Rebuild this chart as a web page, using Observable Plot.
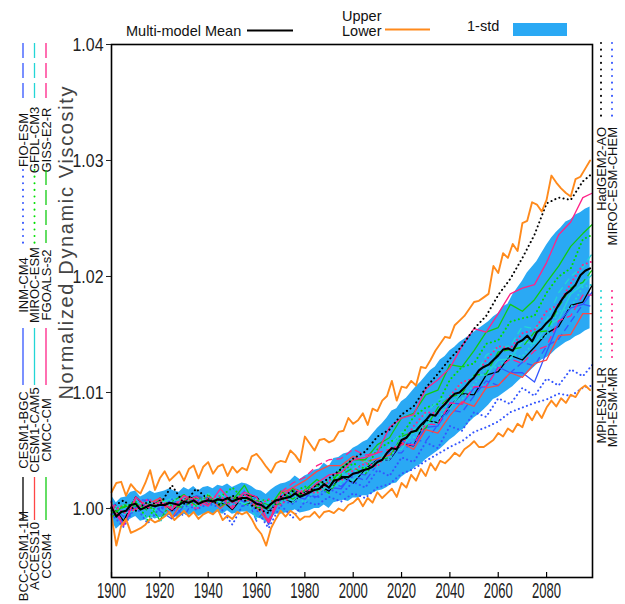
<!DOCTYPE html>
<html><head><meta charset="utf-8">
<script src="https://cdn.jsdelivr.net/npm/d3@7"></script>
<script src="https://cdn.jsdelivr.net/npm/@observablehq/plot@0.6"></script>
<style>
html,body{margin:0;padding:0;background:#fff;}
#chart{width:625px;height:604px;position:relative;}
</style></head><body><div id="chart"></div>
<script>
// ---------- data ----------
const years2 = d3.range(1900, 2100, 2);
const meanVals = [1.0001,0.9993,0.9997,0.9998,1.0003,1.0004,0.9999,1.0001,1.0003,1.0002,
1.0003,1.0003,1.0005,1.0004,1.0003,1.0006,1.0005,1.0007,1.0004,1.0006,
1.0007,1.0006,1.0008,1.0007,1.0009,1.0006,1.0008,1.0009,1.0009,1.0007,
1.0004,1.0003,1.0000,1.0004,1.0007,1.0008,1.0009,1.0010,1.0013,1.0010,
1.0012,1.0014,1.0016,1.0017,1.0021,1.0018,1.0024,1.0025,1.0027,1.0027,
1.0030,1.0031,1.0033,1.0034,1.0036,1.0040,1.0042,1.0048,1.0052,1.0051,
1.0059,1.0061,1.0066,1.0067,1.0072,1.0076,1.0081,1.0080,1.0086,1.0090,
1.0095,1.0099,1.0100,1.0104,1.0109,1.0113,1.0119,1.0122,1.0124,1.0128,
1.0132,1.0137,1.0138,1.0136,1.0143,1.0145,1.0149,1.0144,1.0152,1.0155,
1.0160,1.0164,1.0172,1.0179,1.0185,1.0188,1.0193,1.0201,1.0205,1.0207];
const upperVals = [1.0014,1.0022,1.0023,1.0011,1.0021,1.0016,1.0013,1.0022,1.0033,1.0016,
1.0026,1.0032,1.0024,1.0028,1.0032,1.0024,1.0034,1.0037,1.0026,1.0036,
1.0040,1.0030,1.0036,1.0038,1.0028,1.0036,1.0031,1.0035,1.0033,1.0045,
1.0047,1.0042,1.0036,1.0031,1.0039,1.0041,1.0040,1.0050,1.0046,1.0040,
1.0062,1.0056,1.0050,1.0059,1.0060,1.0057,1.0059,1.0066,1.0067,1.0078,
1.0073,1.0076,1.0082,1.0072,1.0086,1.0084,1.0093,1.0097,1.0110,1.0093,
1.0105,1.0104,1.0110,1.0106,1.0122,1.0121,1.0128,1.0136,1.0142,1.0148,
1.0147,1.0158,1.0162,1.0166,1.0172,1.0178,1.0179,1.0182,1.0185,1.0209,
1.0203,1.0220,1.0216,1.0228,1.0222,1.0246,1.0248,1.0264,1.0262,1.0256,
1.0266,1.0287,1.0281,1.0276,1.0272,1.0269,1.0284,1.0286,1.0293,1.0300];
const lowerVals = [0.9994,0.9968,0.9985,0.9991,0.9979,0.9981,0.9983,0.9986,0.9991,0.9988,
0.9990,0.9993,0.9997,0.9990,0.9994,0.9998,0.9993,0.9997,0.9991,0.9995,
0.9997,0.9995,0.9999,0.9990,0.9994,0.9991,0.9997,0.9995,0.9997,0.9991,
0.9983,0.9978,0.9968,0.9983,0.9991,0.9998,0.9993,0.9998,0.9995,0.9990,
0.9993,0.9993,0.9997,0.9992,0.9997,0.9998,0.9996,1.0000,0.9998,1.0003,
1.0005,1.0009,1.0002,1.0009,1.0005,1.0014,1.0009,1.0013,1.0017,1.0010,
1.0022,1.0018,1.0029,1.0024,1.0034,1.0028,1.0039,1.0033,1.0041,1.0039,
1.0043,1.0048,1.0045,1.0051,1.0054,1.0058,1.0053,1.0053,1.0056,1.0059,
1.0065,1.0062,1.0069,1.0066,1.0073,1.0070,1.0082,1.0076,1.0084,1.0078,
1.0087,1.0093,1.0088,1.0095,1.0091,1.0098,1.0096,1.0103,1.0106,1.0102];
const stdHi = [1.0011,1.0005,1.0009,1.0010,1.0014,1.0015,1.0010,1.0012,1.0015,1.0013,
1.0014,1.0015,1.0017,1.0015,1.0014,1.0018,1.0016,1.0019,1.0015,1.0018,
1.0019,1.0017,1.0020,1.0019,1.0021,1.0018,1.0020,1.0022,1.0021,1.0019,
1.0016,1.0015,1.0012,1.0016,1.0019,1.0021,1.0022,1.0024,1.0028,1.0025,
1.0028,1.0030,1.0033,1.0034,1.0039,1.0036,1.0043,1.0044,1.0047,1.0048,
1.0052,1.0054,1.0057,1.0059,1.0064,1.0069,1.0073,1.0078,1.0084,1.0086,
1.0092,1.0095,1.0100,1.0105,1.0109,1.0114,1.0119,1.0122,1.0128,1.0131,
1.0136,1.0139,1.0143,1.0146,1.0149,1.0152,1.0155,1.0158,1.0161,1.0165,
1.0168,1.0174,1.0176,1.0184,1.0190,1.0196,1.0203,1.0208,1.0213,1.0220,
1.0227,1.0233,1.0238,1.0242,1.0247,1.0249,1.0253,1.0255,1.0258,1.0260];
const stdLo = [0.9990,0.9982,0.9986,0.9988,0.9991,0.9993,0.9989,0.9990,0.9993,0.9991,
0.9992,0.9993,0.9994,0.9993,0.9992,0.9995,0.9994,0.9996,0.9993,0.9995,
0.9996,0.9995,0.9997,0.9995,0.9998,0.9995,0.9996,0.9997,0.9997,0.9995,
0.9992,0.9991,0.9988,0.9992,0.9995,0.9995,0.9996,0.9997,0.9999,0.9996,
0.9997,0.9998,1.0000,1.0000,1.0003,1.0000,1.0005,1.0006,1.0007,1.0006,
1.0009,1.0009,1.0011,1.0011,1.0013,1.0015,1.0016,1.0018,1.0021,1.0022,
1.0027,1.0030,1.0032,1.0036,1.0038,1.0042,1.0045,1.0048,1.0051,1.0055,
1.0059,1.0062,1.0066,1.0069,1.0074,1.0078,1.0081,1.0085,1.0089,1.0094,
1.0096,1.0099,1.0102,1.0105,1.0109,1.0113,1.0116,1.0120,1.0124,1.0128,
1.0130,1.0133,1.0137,1.0140,1.0143,1.0145,1.0148,1.0150,1.0153,1.0155];

const years5 = [1900,1905,1910,1915,1920,1925,1930,1935,1940,1945,1950,1955,
1960,1965,1970,1975,1980,1985,1990,1995,2000,2005,2010,2015,
2020,2025,2030,2035,2040,2045,2050,2055,2060,2065,2070,2075,
2080,2085,2090,2095,2099];
const bccCsm11m = [1.0004,0.9989,1.0010,1.0000,1.0007,0.9998,1.0008,1.0010,1.0004,1.0008,0.9999,1.0012,
1.0010,0.9998,1.0010,1.0005,1.0014,1.0021,1.0015,1.0028,1.0022,1.0034,1.0042,1.0042,
1.0056,1.0054,1.0076,1.0074,1.0088,1.0099,1.0098,1.0115,1.0118,1.0132,1.0128,1.0139,
1.0151,1.0157,1.0175,1.0178,1.0193];
const cesm1Bgc = [0.9997,0.9988,1.0001,1.0008,0.9998,0.9991,1.0002,1.0011,1.0008,1.0002,1.0009,1.0006,
1.0009,0.9986,1.0011,1.0011,1.0008,1.0020,1.0018,1.0017,1.0031,1.0029,1.0042,1.0042,
1.0058,1.0054,1.0070,1.0071,1.0091,1.0090,1.0104,1.0105,1.0122,1.0117,1.0117,1.0109,
1.0135,1.0160,1.0173,1.0176,1.0187];
const inmCm4 = [0.9995,0.9984,1.0002,0.9987,1.0001,0.9997,1.0005,0.9999,1.0004,1.0001,0.9986,1.0006,
0.9999,0.9983,1.0003,0.9992,1.0006,1.0003,1.0010,1.0006,1.0013,1.0009,1.0018,1.0021,
1.0030,1.0034,1.0041,1.0047,1.0053,1.0058,1.0066,1.0070,1.0075,1.0083,1.0087,1.0091,
1.0094,1.0099,1.0097,1.0104,1.0106];
const fioEsm = [1.0003,0.9993,1.0008,1.0007,1.0000,1.0005,0.9993,1.0011,1.0004,1.0009,1.0002,1.0015,
0.9989,1.0004,1.0004,1.0015,1.0012,1.0010,1.0022,1.0019,1.0028,1.0024,1.0038,1.0048,
1.0048,1.0059,1.0058,1.0072,1.0085,1.0083,1.0097,1.0110,1.0106,1.0117,1.0126,1.0123,
1.0140,1.0146,1.0161,1.0176,1.0174];
const access10 = [0.9998,1.0003,0.9999,1.0004,1.0009,0.9992,1.0008,1.0003,1.0011,1.0000,1.0009,1.0009,
1.0001,0.9988,1.0013,1.0018,1.0024,1.0032,1.0037,1.0037,1.0045,1.0040,1.0043,1.0046,
1.0057,1.0051,1.0068,1.0065,1.0080,1.0092,1.0088,1.0104,1.0106,1.0117,1.0113,1.0125,
1.0128,1.0149,1.0150,1.0168,1.0168];
const cesm1Cam5 = [1.0006,0.9996,0.9998,1.0005,1.0004,1.0009,1.0002,1.0004,1.0013,1.0004,1.0008,1.0004,
1.0008,0.9999,1.0009,1.0007,1.0017,1.0013,1.0020,1.0031,1.0024,1.0035,1.0036,1.0052,
1.0051,1.0068,1.0072,1.0084,1.0086,1.0101,1.0115,1.0115,1.0128,1.0129,1.0144,1.0142,
1.0157,1.0163,1.0185,1.0193,1.0202];
const mirocEsm = [1.0000,1.0001,1.0006,0.9990,1.0009,1.0001,1.0007,1.0010,1.0004,1.0010,1.0018,1.0008,
1.0007,1.0007,1.0005,1.0014,1.0019,1.0015,1.0024,1.0031,1.0039,1.0034,1.0051,1.0057,
1.0063,1.0079,1.0087,1.0090,1.0111,1.0122,1.0125,1.0142,1.0145,1.0161,1.0164,1.0166,
1.0186,1.0200,1.0207,1.0232,1.0236];
const gfdlCm3 = [1.0005,0.9995,1.0009,0.9988,1.0005,1.0008,1.0001,1.0008,1.0006,1.0013,1.0002,1.0011,
0.9991,1.0005,1.0012,1.0005,1.0013,1.0022,1.0017,1.0023,1.0034,1.0041,1.0038,1.0054,
1.0066,1.0065,1.0082,1.0093,1.0097,1.0108,1.0112,1.0132,1.0139,1.0140,1.0157,1.0155,
1.0162,1.0186,1.0200,1.0208,1.0220];
const ccsm4 = [0.9992,1.0003,1.0002,1.0005,0.9990,1.0006,1.0012,1.0002,1.0012,1.0002,1.0007,1.0020,
1.0001,1.0000,1.0015,1.0008,1.0016,1.0025,1.0018,1.0035,1.0042,1.0042,1.0055,1.0061,
1.0078,1.0082,1.0098,1.0102,1.0124,1.0122,1.0136,1.0152,1.0156,1.0176,1.0170,1.0180,
1.0195,1.0209,1.0226,1.0237,1.0245];
const cmccCm = [1.0002,0.9985,1.0010,1.0001,1.0006,0.9999,1.0011,1.0007,1.0002,1.0017,1.0005,1.0014,
1.0010,0.9988,1.0009,1.0018,1.0012,1.0022,1.0029,1.0031,1.0042,1.0044,1.0048,1.0070,
1.0078,1.0081,1.0103,1.0111,1.0121,1.0140,1.0155,1.0152,1.0168,1.0185,1.0190,1.0193,
1.0212,1.0236,1.0247,1.0268,1.0272];
const fgoalsS2 = [0.9996,1.0001,1.0005,0.9998,1.0009,1.0002,1.0001,1.0009,1.0009,1.0004,1.0011,1.0003,
1.0007,1.0003,1.0004,1.0017,1.0010,1.0020,1.0013,1.0029,1.0035,1.0030,1.0041,1.0044,
1.0062,1.0066,1.0069,1.0087,1.0096,1.0099,1.0115,1.0116,1.0135,1.0137,1.0139,1.0152,
1.0153,1.0174,1.0190,1.0195,1.0206];
const gissE2R = [1.0004,0.9987,1.0008,1.0000,1.0009,1.0000,1.0007,1.0010,1.0004,1.0009,1.0000,1.0012,
1.0006,0.9990,1.0014,1.0022,1.0027,1.0037,1.0042,1.0043,1.0051,1.0046,1.0048,1.0051,
1.0055,1.0055,1.0073,1.0072,1.0091,1.0090,1.0105,1.0105,1.0121,1.0129,1.0125,1.0136,
1.0140,1.0162,1.0166,1.0184,1.0184];
const hadgem2Ao = [1.0001,1.0007,0.9998,1.0006,1.0003,1.0020,1.0004,1.0017,1.0008,1.0003,1.0011,1.0007,
1.0000,0.9996,1.0010,1.0015,1.0012,1.0020,1.0026,1.0034,1.0043,1.0049,1.0062,1.0068,
1.0081,1.0088,1.0104,1.0116,1.0129,1.0140,1.0155,1.0166,1.0184,1.0198,1.0216,1.0236,
1.0263,1.0268,1.0266,1.0282,1.0289];
const mirocEsmChem = [1.0006,0.9996,1.0000,1.0005,0.9999,1.0008,1.0001,1.0006,1.0010,1.0003,1.0008,1.0002,
1.0006,0.9999,1.0007,1.0004,1.0012,1.0009,1.0017,1.0012,1.0023,1.0018,1.0033,1.0028,
1.0044,1.0040,1.0057,1.0052,1.0071,1.0067,1.0083,1.0079,1.0095,1.0090,1.0104,1.0097,
1.0112,1.0106,1.0120,1.0114,1.0124];
const mpiEsmLr = [0.9998,1.0003,1.0003,1.0006,0.9988,1.0007,1.0008,1.0001,1.0013,1.0005,1.0007,1.0004,
1.0008,1.0005,1.0005,1.0012,1.0005,1.0019,1.0018,1.0021,1.0033,1.0030,1.0041,1.0042,
1.0061,1.0061,1.0073,1.0075,1.0094,1.0094,1.0107,1.0121,1.0122,1.0133,1.0131,1.0144,
1.0149,1.0170,1.0173,1.0191,1.0193];
const mpiEsmMr = [1.0005,0.9996,0.9999,1.0008,1.0004,1.0001,1.0011,0.9999,1.0009,1.0011,1.0002,1.0012,
1.0002,1.0008,1.0003,1.0012,1.0016,1.0013,1.0024,1.0024,1.0033,1.0039,1.0036,1.0052,
1.0054,1.0071,1.0083,1.0082,1.0097,1.0109,1.0112,1.0128,1.0140,1.0138,1.0151,1.0154,
1.0170,1.0176,1.0194,1.0210,1.0213];

const xTicks = [1900,1920,1940,1960,1980,2000,2020,2040,2060,2080];
const yTicks = [1.00,1.01,1.02,1.03,1.04];

const modelNames = ["BCC-CSM1-1M","CESM1-BGC","INM-CM4","FIO-ESM","ACCESS10","CESM1-CAM5","MIROC-ESM","GFDL-CM3",
  "CCSM4","CMCC-CM","FGOALS-s2","GISS-E2-R","HadGEM2-AO","MIROC-ESM-CHEM","MPI-ESM-LR","MPI-ESM-MR"];
const modelValues = [bccCsm11m,cesm1Bgc,inmCm4,fioEsm,access10,cesm1Cam5,mirocEsm,gfdlCm3,
  ccsm4,cmccCm,fgoalsS2,gissE2R,hadgem2Ao,mirocEsmChem,mpiEsmLr,mpiEsmMr];

// ---------- styles ----------
const C = {black:"#000000", blue:"#3355ff", cyan:"#22d6d6", green:"#11cc11", red:"#ff4646", pink:"#ff2288",
  orange:"#ff8a1c", band:"#2aa9f4"};
const DOT = "0.1,4.2", DASH = "7,4";
const modelStyle = {
  "BCC-CSM1-1M":{c:C.black}, "CESM1-BGC":{c:C.blue}, "INM-CM4":{c:C.blue,d:DOT}, "FIO-ESM":{c:C.blue,d:DASH},
  "ACCESS10":{c:C.red}, "CESM1-CAM5":{c:C.cyan}, "MIROC-ESM":{c:"#00e000",d:DOT}, "GFDL-CM3":{c:C.cyan,d:DASH},
  "CCSM4":{c:C.green}, "CMCC-CM":{c:C.pink}, "FGOALS-s2":{c:C.green,d:DASH}, "GISS-E2-R":{c:C.pink,d:DASH},
  "HadGEM2-AO":{c:C.black,d:DOT}, "MIROC-ESM-CHEM":{c:C.blue,d:DOT}, "MPI-ESM-LR":{c:C.cyan,d:DOT}, "MPI-ESM-MR":{c:C.pink,d:DOT}
};

const band = years2.map((y,i)=>({year:y, lo:stdLo[i], hi:stdHi[i]}));
const meanRows = years2.map((y,i)=>({year:y, v:meanVals[i]}));
const upRows = years2.map((y,i)=>({year:y, v:upperVals[i]}));
const loRows = years2.map((y,i)=>({year:y, v:lowerVals[i]}));

const modelMarks = modelNames.map((name, k) => {
  const s = modelStyle[name];
  const rows = years5.map((y,i)=>({year:y, v:modelValues[k][i]}));
  return Plot.line(rows, {x:"year", y:"v", stroke:s.c,
    strokeWidth: s.d === DOT ? 2 : 1.3,
    strokeDasharray: s.d || null, strokeLinecap: s.d === DOT ? "round" : "butt"});
});

const W = 625, H = 604, mt = 44, mr = 33, mb = 27, ml = 111;
const chart = Plot.plot({
  width: W, height: H, marginTop: mt, marginRight: mr, marginBottom: mb, marginLeft: ml,
  style: {fontFamily: "Liberation Sans, Arial, sans-serif", background: "#fff", color: "#222"},
  x: {domain: [1900, 2099]},
  y: {domain: [0.99405, 1.04]},
  marks: [
    Plot.areaY(band, {x:"year", y1:"lo", y2:"hi", fill:C.band}),
    ...modelMarks,
    Plot.line(upRows, {x:"year", y:"v", stroke:C.orange, strokeWidth:1.9}),
    Plot.line(loRows, {x:"year", y:"v", stroke:C.orange, strokeWidth:1.9}),
    Plot.line(meanRows, {x:"year", y:"v", stroke:"#000", strokeWidth:2.1}),
    Plot.frame({stroke:"#000", strokeWidth:1.6}),
    Plot.axisY({ticks: yTicks, tickFormat: d => d.toFixed(2), tickSize: 5, tickPadding: 3, fontSize: 19, label: null}),
    Plot.axisX({ticks: xTicks, tickFormat: d => String(d), tickSize: 0, tickPadding: 5, fontSize: 22, label: null}),
    Plot.ruleX(xTicks, {x: d => d, insetTop: H - mt - mb - 5, stroke: "#000", strokeWidth: 1.2})
  ]
});
document.getElementById("chart").appendChild(chart);

const svg = d3.select(chart);
svg.selectAll('g[aria-label="y-axis tick label"] text').attr("textLength", 31).attr("lengthAdjust", "spacingAndGlyphs");
svg.selectAll('g[aria-label="x-axis tick label"] text').attr("textLength", 29).attr("lengthAdjust", "spacingAndGlyphs");

// ---------- legends / labels ----------
const g = svg.append("g").attr("font-family", "Liberation Sans, Arial, sans-serif").attr("fill", "#111")
  .attr("text-anchor", "start");

// y label
g.append("text").attr("transform", "translate(66,243) rotate(-90)")
  .attr("text-anchor", "middle").attr("dominant-baseline", "central")
  .attr("font-size", 20).attr("fill", "#444")
  .attr("textLength", 313).attr("lengthAdjust", "spacing")
  .text("Normalized Dynamic Viscosity");

// top legend
function htext(x, y, s) {
  g.append("text").attr("x", x).attr("y", y).attr("font-size", 14.5).attr("text-anchor", "start").text(s);
}
htext(126, 35.5, "Multi-model Mean");
g.append("line").attr("x1", 247).attr("x2", 293).attr("y1", 30.5).attr("y2", 30.5).attr("stroke", "#000").attr("stroke-width", 2);
htext(342, 21, "Upper");
htext(342, 35.5, "Lower");
g.append("line").attr("x1", 385).attr("x2", 430).attr("y1", 29.5).attr("y2", 29.5).attr("stroke", C.orange).attr("stroke-width", 2);
htext(467, 31, "1-std");
g.append("rect").attr("x", 513).attr("y", 23).attr("width", 54).attr("height", 13).attr("fill", C.band);

// side legends (rotated)
function sample(x, y0, y1, name) {
  const s = modelStyle[name];
  const dash = s.d === DOT ? "0.1,6.5" : (s.d === DASH ? "15,5" : null);
  g.append("line").attr("x1", x).attr("x2", x).attr("y1", y0).attr("y2", y1)
    .attr("stroke", s.c).attr("stroke-width", s.d === DOT ? 2 : 1.3)
    .attr("stroke-linecap", s.d === DOT ? "round" : "butt")
    .attr("stroke-dasharray", dash);
}
function vlabel(x, y, name, anchor) {
  g.append("text").attr("transform", `translate(${x},${y}) rotate(-90)`)
    .attr("text-anchor", anchor).attr("dominant-baseline", "central")
    .attr("font-size", 13).text(name);
}
const leftCols = [23, 34.5, 46];
const slots = [{a:43,b:102,t:140},{a:170,b:243,t:285},{a:328,b:385,t:430},{a:477,b:520,t:556}];
const leftLayout = [
  ["FIO-ESM","INM-CM4","CESM1-BGC","BCC-CSM1-1M"],
  ["GFDL-CM3","MIROC-ESM","CESM1-CAM5","ACCESS10"],
  ["GISS-E2-R","FGOALS-s2","CMCC-CM","CCSM4"]
];
leftLayout.forEach((col, ci) => col.forEach((name, si) => {
  const sl = slots[si];
  sample(leftCols[ci], sl.a, sl.b, name);
  vlabel(leftCols[ci], sl.t, name, "middle");
}));
const rightLayout = [
  {x:601, a:43, b:118, t:127, name:"HadGEM2-AO"},
  {x:612, a:43, b:118, t:127, name:"MIROC-ESM-CHEM"},
  {x:601, a:291, b:363, t:367, name:"MPI-ESM-LR"},
  {x:612, a:291, b:363, t:367, name:"MPI-ESM-MR"}
];
rightLayout.forEach(r => { sample(r.x, r.a, r.b, r.name); vlabel(r.x, r.t, r.name, "end"); });
</script></body></html>
